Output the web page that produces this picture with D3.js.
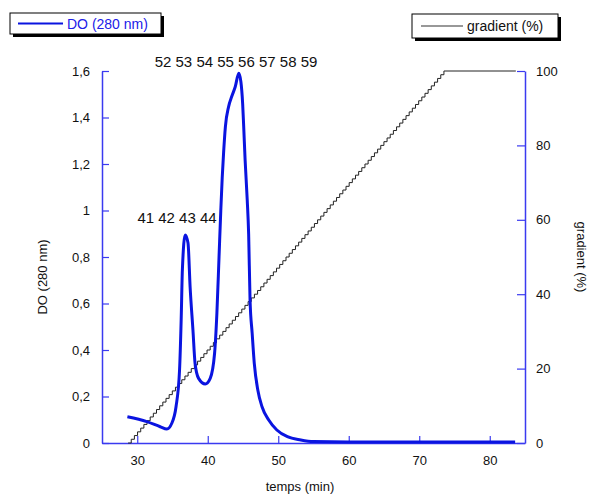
<!DOCTYPE html>
<html><head><meta charset="utf-8">
<script src="https://cdn.jsdelivr.net/npm/d3@7"></script>
<style>body{margin:0;background:#fff}svg{display:block}text{font-family:"Liberation Sans",Arial,sans-serif}</style>
</head><body>
<script>
// ---- data ----
const timeDO = [28.6,31.35,33.25,34.2,34.9,35.5,36.0,36.23,36.4,36.8,37.2,37.5,37.9,38.2,38.7,39.65,40.35,40.97,41.3,41.6,41.85,42.05,42.25,42.5,42.96,43.4,43.9,44.4,44.7,44.95,45.1,45.3,45.6,45.8,46.0,46.3,46.6,47.1,47.7,48.65,49.8,51.3,53.2,55,60,70,83.6];
const valueDO = [0.113,0.092,0.070,0.060,0.085,0.156,0.314,0.53,0.744,0.895,0.86,0.67,0.486,0.343,0.278,0.254,0.278,0.386,0.56,0.80,1.0,1.14,1.25,1.36,1.447,1.49,1.532,1.59,1.554,1.46,1.36,1.217,1.045,0.90,0.615,0.472,0.343,0.228,0.156,0.099,0.056,0.027,0.013,0.006,0.004,0.004,0.004];
const timeGrad = [28.7,73.5,83.7];
const valueGrad = [0,100,100];
const xTicks = [30,40,50,60,70,80];
const yTicks = [0,0.2,0.4,0.6,0.8,1,1.2,1.4,1.6];
const y2Ticks = [0,20,40,60,80,100];
const fractionsA = ["41","42","43","44"];
const fractionsB = ["52","53","54","55","56","57","58","59"];

const W=589,H=498;
const m={l:102,r:525,t:71,b:443};
const svg=d3.select("body").append("svg").attr("width",W).attr("height",H);
const x=d3.scaleLinear().domain([25,85]).range([m.l,m.r]);
const y=d3.scaleLinear().domain([0,1.6]).range([m.b,m.t]);
const y2=d3.scaleLinear().domain([0,100]).range([m.b,m.t]);
const axisCol="#3a3af0", curveCol="#0a14e0";
const comma=d=>String(d).replace(".",",");

function styleAxis(g){
  g.selectAll("path.domain").attr("stroke",axisCol).attr("stroke-width",1.5);
  g.selectAll(".tick line").attr("stroke",axisCol).attr("stroke-width",1.2);
  g.selectAll("text").attr("fill","#111").style("font-size","13px").style("font-family",'"Liberation Sans",Arial,sans-serif');
}
svg.append("g").attr("transform",`translate(0,${m.b})`)
  .call(d3.axisBottom(x).tickValues(xTicks).tickSizeInner(-7).tickSizeOuter(0).tickPadding(13)).call(styleAxis);
svg.append("g").attr("transform",`translate(${m.l},0)`)
  .call(d3.axisLeft(y).tickValues(yTicks).tickFormat(comma).tickSizeInner(-7).tickSizeOuter(0).tickPadding(12)).call(styleAxis);
svg.append("g").attr("transform",`translate(${m.r},0)`)
  .call(d3.axisRight(y2).tickValues(y2Ticks).tickSizeInner(-8).tickSizeOuter(0).tickPadding(11)).call(styleAxis);

// staircase rendering curve (visual style of the gradient trace)
function stairCurve(ctx){
  let x0,y0,first;
  return {
    areaStart(){},areaEnd(){},
    lineStart(){first=true;},
    lineEnd(){},
    point(px,py){
      if(first){ctx.moveTo(px,py);first=false;}
      else{
        const dx=px-x0,dy=py-y0;
        if(Math.abs(dy)<0.5){ctx.lineTo(px,py);}
        else{
          const n=Math.max(1,Math.round(Math.abs(dx)/3.15));
          for(let i=1;i<=n;i++){
            const xi=x0+dx*i/n;
            ctx.lineTo(xi,y0+dy*(i-1)/n);
            ctx.lineTo(xi,y0+dy*i/n);
          }
        }
      }
      x0=px;y0=py;
    }
  };
}
const gradData=timeGrad.map((t,i)=>[t,valueGrad[i]]);
svg.append("path").datum(gradData)
  .attr("d",d3.line().x(d=>x(d[0])).y(d=>y2(d[1])).curve(stairCurve))
  .attr("fill","none").attr("stroke","#222").attr("stroke-width",1);

const doData=timeDO.map((t,i)=>[t,valueDO[i]]);
svg.append("path").datum(doData)
  .attr("d",d3.line().x(d=>x(d[0])).y(d=>y(d[1])).curve(d3.curveMonotoneX))
  .attr("fill","none").attr("stroke",curveCol).attr("stroke-width",3).attr("stroke-linejoin","round");

// fraction labels
svg.append("text").attr("x",177).attr("y",223).attr("text-anchor","middle").style("font-size","15px").attr("fill","#111").text(fractionsA.join(" "));
svg.append("text").attr("x",236).attr("y",67).attr("text-anchor","middle").style("font-size","15px").attr("fill","#111").text(fractionsB.join(" "));

// axis titles
svg.append("text").attr("x",300).attr("y",491).attr("text-anchor","middle").style("font-size","13px").attr("fill","#111").text("temps (min)");
svg.append("text").attr("transform","translate(47,277) rotate(-90)").attr("text-anchor","middle").style("font-size","13px").attr("fill","#111").text("DO (280 nm)");
svg.append("text").attr("transform","translate(577,257) rotate(90)").attr("text-anchor","middle").style("font-size","13px").attr("fill","#111").text("gradient (%)");

// legends
function legend(x0,y0,w,h,col,txtCol,label,lx1,lx2,tx){
  svg.append("rect").attr("x",x0+3).attr("y",y0+3).attr("width",w).attr("height",h).attr("fill","#000");
  svg.append("rect").attr("x",x0).attr("y",y0).attr("width",w).attr("height",h).attr("fill","#fff").attr("stroke","#000").attr("stroke-width",1);
  svg.append("line").attr("x1",lx1).attr("x2",lx2).attr("y1",y0+h/2).attr("y2",y0+h/2).attr("stroke",col).attr("stroke-width",col===curveCol?2:1.2);
  svg.append("text").attr("x",tx).attr("y",y0+h/2+5).style("font-size","14px").attr("fill",txtCol).text(label);
}
legend(10,13,151,21,curveCol,"#2020e8","DO (280 nm)",18,63,67);
legend(412,14,146,24,"#333","#111","gradient (%)",421,463,467);
</script>
</body></html>
